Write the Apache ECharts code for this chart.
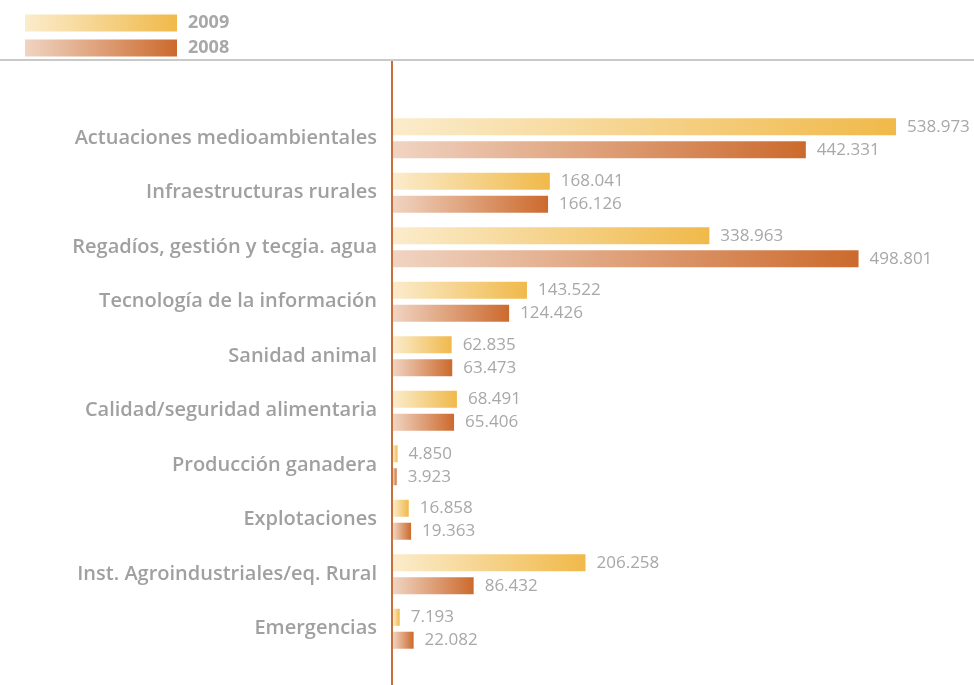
<!DOCTYPE html>
<html>
<head>
<meta charset="utf-8">
<script src="https://cdn.jsdelivr.net/npm/echarts@6/dist/echarts.min.js"></script>
<style>
  html, body { margin: 0; padding: 0; background: #fff; }
  #chart { width: 974px; height: 685px; }
</style>
</head>
<body>
<div id="chart"></div>
<script>
// categorías (de arriba abajo)
const categories = [
  'Actuaciones medioambientales',
  'Infraestructuras rurales',
  'Regadíos, gestión y tecgia. agua',
  'Tecnología de la información',
  'Sanidad animal',
  'Calidad/seguridad alimentaria',
  'Producción ganadera',
  'Explotaciones',
  'Inst. Agroindustriales/eq. Rural',
  'Emergencias'
]
const years = ['2009', '2008']
const values2009 = [538973, 168041, 338963, 143522, 62835, 68491, 4850, 16858, 206258, 7193]
const values2008 = [442331, 166126, 498801, 124426, 63473, 65406, 3923, 19363, 86432, 22082]

// formato con punto de miles
function fmt (v) {
  return String(v).replace(/\B(?=(\d{3})+(?!\d))/g, '.')
}

const grad2009 = new echarts.graphic.LinearGradient(0, 0, 1, 0, [
  { offset: 0, color: '#fbeccc' },
  { offset: 1, color: '#f0b94a' }
])
const grad2008 = new echarts.graphic.LinearGradient(0, 0, 1, 0, [
  { offset: 0, color: '#f0d4c2' },
  { offset: 1, color: '#cc6a2d' }
])

const labelStyle = {
  show: true,
  position: 'right',
  distance: 11,
  color: '#a8a8a8',
  fontSize: 17,
  fontFamily: 'Open Sans',
  formatter: p => fmt(p.value)
}

const myChart = echarts.init(document.getElementById('chart'))
const option = {
  animation: false,
  legend: {
    orient: 'vertical',
    left: 20,
    top: 9,
    itemWidth: 152,
    itemHeight: 17,
    itemGap: 7,
    icon: 'rect',
    data: years,
    textStyle: {
      color: '#a8a8a8',
      fontSize: 18,
      fontWeight: 'bold',
      fontFamily: 'Open Sans',
      padding: [0, 0, 0, 6]
    }
  },
  graphic: [
    {
      type: 'line',
      shape: { x1: 0, y1: 60, x2: 974, y2: 60 },
      style: { stroke: '#c9c9c9', lineWidth: 2 }
    },
    {
      type: 'line',
      shape: { x1: 392, y1: 61, x2: 392, y2: 685 },
      style: { stroke: '#c8703a', lineWidth: 2 },
      z: 10
    }
  ],
  grid: {
    left: 393,
    top: 111,
    width: 560,
    height: 545
  },
  xAxis: {
    type: 'value',
    min: 0,
    max: 600000,
    show: false
  },
  yAxis: {
    type: 'category',
    data: categories,
    inverse: true,
    axisLine: { show: false },
    axisTick: { show: false },
    axisLabel: {
      margin: 16,
      color: '#a0a0a0',
      fontSize: 20,
      fontWeight: 600,
      fontFamily: 'Open Sans'
    }
  },
  series: [
    {
      name: '2009',
      type: 'bar',
      data: values2009,
      barWidth: 17,
      barGap: '35%',
      itemStyle: { color: grad2009 },
      label: labelStyle
    },
    {
      name: '2008',
      type: 'bar',
      data: values2008,
      barWidth: 17,
      barGap: '35%',
      itemStyle: { color: grad2008 },
      label: labelStyle
    }
  ]
}
myChart.setOption(option)
</script>
</body>
</html>
